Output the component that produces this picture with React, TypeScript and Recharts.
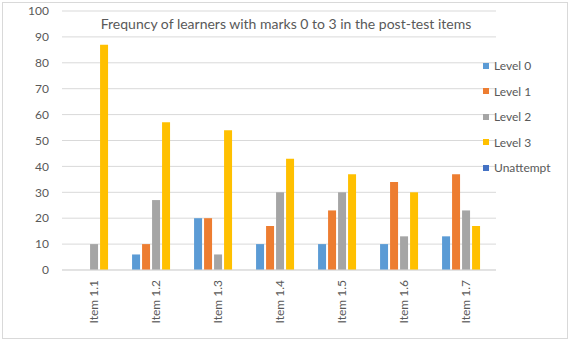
import { BarChart, Bar, XAxis, YAxis, CartesianGrid } from 'recharts';

const items = ['Item 1.1', 'Item 1.2', 'Item 1.3', 'Item 1.4', 'Item 1.5', 'Item 1.6', 'Item 1.7'];
const level0 = [0, 6, 20, 10, 10, 10, 13];
const level1 = [0, 10, 20, 17, 23, 34, 37];
const level2 = [10, 27, 6, 30, 30, 13, 23];
const level3 = [87, 57, 54, 43, 37, 30, 17];
const unattempt = [0, 0, 0, 0, 0, 0, 0];
const yTicks = [0, 10, 20, 30, 40, 50, 60, 70, 80, 90, 100];

const series = [
  { key: 'Level 0', values: level0, color: '#5B9BD5' },
  { key: 'Level 1', values: level1, color: '#ED7D31' },
  { key: 'Level 2', values: level2, color: '#A5A5A5' },
  { key: 'Level 3', values: level3, color: '#FFC000' },
  { key: 'Unattempt', values: unattempt, color: '#4472C4' },
];

const data = items.map((item, i) => {
  const row: Record<string, string | number> = { item };
  series.forEach((s) => {
    row[s.key] = s.values[i];
  });
  return row;
});

const FONT = 'Lato, "Open Sans", sans-serif';

const ItemTick = (props: any) => {
  const { x, y, payload } = props;
  return (
    <text
      x={x}
      y={y + 2}
      transform={`rotate(-90, ${x}, ${y + 2})`}
      textAnchor="end"
      dominantBaseline="central"
      fill="#595959"
      fontSize={12}
      fontFamily={FONT}
    >
      {payload.value}
    </text>
  );
};

export default function App() {
  return (
    <div style={{ position: 'absolute', left: 0, top: 0, width: 572, height: 342, background: '#fff' }}>
      <div
        style={{
          position: 'absolute',
          left: 2,
          top: 2,
          width: 566,
          height: 337,
          border: '1px solid #d9d9d9',
          boxSizing: 'border-box',
        }}
      />
      <BarChart
        width={572}
        height={342}
        data={data}
        margin={{ top: 11, right: 76, bottom: 12, left: 0 }}
        barCategoryGap="13%"
        barGap={2}
      >
        <CartesianGrid vertical={false} stroke="#d9d9d9" />
        <XAxis
          dataKey="item"
          height={60}
          tickLine={false}
          axisLine={{ stroke: '#d9d9d9' }}
          tick={<ItemTick />}
          interval={0}
        />
        <YAxis
          width={62}
          domain={[0, 100]}
          ticks={yTicks}
          axisLine={false}
          tickLine={false}
          tickMargin={7}
          tick={{ fill: '#595959', fontSize: 12, fontFamily: FONT }}
        />
        {series.map((s) => (
          <Bar key={s.key} dataKey={s.key} fill={s.color} isAnimationActive={false} />
        ))}
      </BarChart>
      <div
        style={{
          position: 'absolute',
          left: 0,
          top: 15,
          width: 572,
          textAlign: 'center',
          fontFamily: FONT,
          fontSize: 14,
          color: '#595959',
        }}
      >
        <span style={{ background: '#fff', padding: '0 4px' }}>
          Frequncy of learners with marks 0 to 3 in the post-test items
        </span>
      </div>
      <div
        style={{
          position: 'absolute',
          left: 483,
          top: 53,
          fontFamily: FONT,
          fontSize: 12,
          color: '#595959',
        }}
      >
        {series.map((s) => (
          <div key={s.key} style={{ display: 'flex', alignItems: 'center', height: 25.5 }}>
            <span style={{ width: 6, height: 6, background: s.color, marginRight: 5, display: 'inline-block' }} />
            {s.key}
          </div>
        ))}
      </div>
    </div>
  );
}
